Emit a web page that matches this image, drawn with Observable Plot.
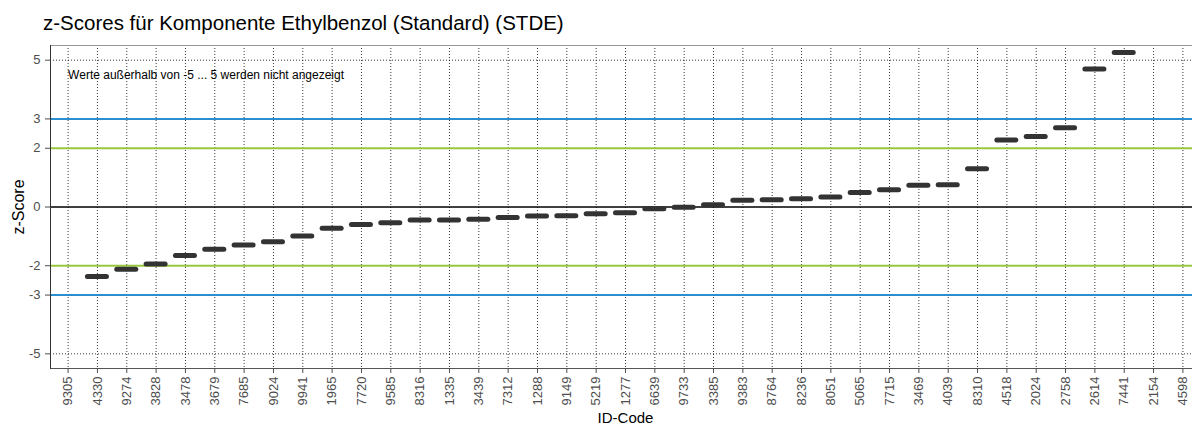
<!DOCTYPE html>
<html>
<head>
<meta charset="utf-8">
<script src="https://cdn.jsdelivr.net/npm/d3@7"></script>
<script src="https://cdn.jsdelivr.net/npm/@observablehq/plot@0.6"></script>
<style>
  html, body { margin: 0; padding: 0; background: #fff; }
  body { width: 1192px; height: 428px; overflow: hidden; font-family: "Liberation Sans", Arial, sans-serif; }
  #title { height: 40px; box-sizing: border-box; padding: 11px 0 0 43px; font-size: 20.5px; line-height: 24px; color: #000; white-space: nowrap; }
  #chart svg { display: block; }
</style>
</head>
<body>
<div id="title"></div>
<div id="chart"></div>
<script>
const titleText = "z-Scores für Komponente Ethylbenzol (Standard) (STDE)";
const xTitle = "ID-Code";
const yTitle = "z-Score";
const noteText = ["Werte außerhalb von -5 ... 5 werden nicht angezeigt"];

const ids = ["9305","4330","9274","3828","3478","3679","7685","9024","9941","1965",
             "7720","9585","8316","1335","3439","7312","1288","9149","5219","1277",
             "6639","9733","3385","9383","8764","8236","8051","5065","7715","3469",
             "4039","8310","4518","2024","2758","2614","7441","2154","4598"];
const zscores = [null, -2.37, -2.12, -1.94, -1.65, -1.44, -1.29, -1.18, -0.99, -0.72,
                 -0.60, -0.54, -0.44, -0.44, -0.42, -0.36, -0.31, -0.30, -0.23, -0.20,
                 -0.06, -0.01, 0.08, 0.23, 0.25, 0.28, 0.34, 0.49, 0.59, 0.74,
                 0.76, 1.30, 2.28, 2.40, 2.70, 4.70, 5.26, null, null];

const yTicks = [-5, -3, -2, 0, 2, 3, 5];
const dottedLevels = [-5, 5];
const warnLevels = [-2, 2];
const actionLevels = [-3, 3];
const zeroLevel = [0];
const yDomain = [-5.5, 5.5];
const noteY = 4.5;

document.getElementById("title").textContent = titleText;

const data = ids.map((id, i) => ({id, z: zscores[i]})).filter(d => d.z != null);

const chart = Plot.plot({
  width: 1192,
  height: 388,
  marginTop: 5,
  marginBottom: 60,
  marginLeft: 50,
  marginRight: 0,
  style: {fontFamily: "'Liberation Sans', Arial, sans-serif", background: "#fff"},
  x: {type: "band", domain: ids, range: [50, 1200], round: false, paddingInner: 0.352, paddingOuter: 0.276, label: null},
  y: {domain: yDomain, label: null},
  marks: [
    Plot.gridX({stroke: "#222", strokeOpacity: 0.9, strokeWidth: 1, strokeDasharray: "1,2"}),
    Plot.ruleY(dottedLevels, {stroke: "#222", strokeOpacity: 0.9, strokeDasharray: "1,2"}),
    Plot.ruleY(actionLevels, {stroke: "#2a8fd0", strokeWidth: 2}),
    Plot.ruleY(warnLevels, {stroke: "#96c83c", strokeWidth: 2}),
    Plot.ruleY(zeroLevel, {stroke: "#000", strokeWidth: 1.5}),
    Plot.tickY(data, {x: "id", y: "z", stroke: "#333", strokeWidth: 5, strokeLinecap: "round"}),
    Plot.text(noteText, {x: () => ids[0], y: () => noteY, text: d => d, textAnchor: "start", fontSize: 12, fill: "#000"}),
    Plot.frame({anchor: "top", stroke: "#999"}),
    Plot.frame({anchor: "bottom", stroke: "#555"}),
    Plot.frame({anchor: "left", stroke: "#333"}),
    Plot.axisY({ticks: yTicks, tickFormat: d => String(d), tickSize: 5, tickPadding: 5, fontSize: 13, color: "#4d4d4d", label: null}),
    Plot.axisX({tickSize: 5, tickPadding: 3, tickRotate: -90, fontSize: 13, color: "#4d4d4d", label: null}),
    Plot.text([yTitle], {frameAnchor: "left", y: () => 0, text: d => d, rotate: -90, textAnchor: "middle", lineAnchor: "middle", dx: -32, fontSize: 16, fill: "#000"}),
    Plot.text([xTitle], {frameAnchor: "bottom", text: d => d, textAnchor: "middle", lineAnchor: "middle", dx: 4, dy: 50, fontSize: 15, fill: "#000"})
  ]
});
document.getElementById("chart").appendChild(chart);
</script>
</body>
</html>
